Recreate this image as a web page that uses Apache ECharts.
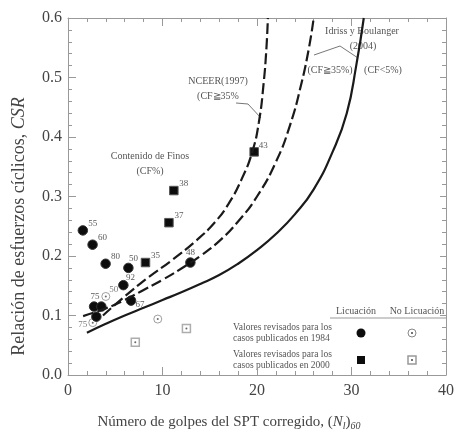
<!DOCTYPE html>
<html><head><meta charset="utf-8">
<script src="https://cdn.jsdelivr.net/npm/echarts@6/dist/echarts.min.js"></script>
<style>html,body{margin:0;padding:0;background:#fff}#c{width:457px;height:436px}</style>
</head><body><div id="c"></div>
<script>
// ---- data ----
const xTicks = [0, 10, 20, 30, 40];
const yTicks = [0.0, 0.1, 0.2, 0.3, 0.4, 0.5, 0.6];

// Licuación, 1984 cases (filled circles)
const liq1984X = [1.57, 2.6, 3.98, 6.39, 5.86, 12.95, 2.76, 3.53, 3.0, 6.67];
const liq1984Y = [0.243, 0.219, 0.187, 0.180, 0.151, 0.189, 0.115, 0.115, 0.098, 0.125];
const liq1984L = ['55', '60', '80', '50', '92', '48', '75', '', '', '67'];

// Licuación, 2000 cases (filled squares)
const liq2000X = [8.2, 11.2, 10.68, 19.7];
const liq2000Y = [0.189, 0.310, 0.256, 0.375];
const liq2000L = ['35', '38', '37', '43'];

// No licuación, 1984 (open circles)
const noLiq1984X = [4.0, 2.62, 9.5];
const noLiq1984Y = [0.132, 0.088, 0.094];
const noLiq1984L = ['50', '75', ''];

// No licuación, 2000 (open squares)
const noLiq2000X = [7.12, 12.53];
const noLiq2000Y = [0.055, 0.078];

// Curves
const nceerX = [3.7, 6.0, 8.5, 11.0, 13.5, 15.5, 17.0, 18.4, 19.5, 20.2, 20.7, 21.0, 21.15];
const nceerY = [0.100, 0.132, 0.164, 0.193, 0.225, 0.256, 0.288, 0.330, 0.375, 0.425, 0.490, 0.550, 0.600];

const ib35X = [1.6, 4.0, 6.0, 8.0, 10.0, 12.0, 14.0, 16.0, 18.0, 20.0, 22.0, 23.5, 24.7, 25.5, 26.0];
const ib35Y = [0.099, 0.112, 0.126, 0.143, 0.160, 0.179, 0.200, 0.225, 0.258, 0.300, 0.358, 0.420, 0.490, 0.550, 0.600];

const ib5X = [2.0, 4.0, 6.0, 8.0, 10.0, 12.0, 14.0, 16.0, 18.0, 20.0, 22.0, 24.0, 26.0, 28.0, 29.5, 30.5, 31.3];
const ib5Y = [0.071, 0.086, 0.100, 0.113, 0.126, 0.139, 0.153, 0.168, 0.187, 0.210, 0.237, 0.270, 0.312, 0.375, 0.440, 0.520, 0.600];

// ---- layout (label offsets, px) ----
const offsets = {
  '1984-6': [1, -10], '1984-5': [0, -10], '1984-4': [7, -8], '1984-9': [9, 4], '1984-3': [5, -9],
  'no1984-0': [8, -7], 'no1984-1': [-10, 2], '2000-3': [9, -6]
};
const FONT = 'Liberation Serif, Times New Roman, serif';
const TXT = '#444';

function pts(xs, ys) { return xs.map((x, i) => [x, ys[i]]); }
function labelled(xs, ys, ls, key) {
  return xs.map((x, i) => ({
    value: [x, ys[i]],
    label: {
      show: !!ls[i], formatter: ls[i] || '', position: 'inside',
      offset: offsets[key + '-' + i] || [10, -7],
      color: '#5a5a5a', fontFamily: FONT, fontSize: 9
    }
  }));
}

const chart = echarts.init(document.getElementById('c'), null, {renderer: 'canvas'});

const axisCommon = {
  min: 0, axisLine: {show: true, onZero: false, lineStyle: {color: '#999', width: 1}},
  axisTick: {show: true, inside: true, length: 8, lineStyle: {color: '#999'}},
  minorTick: {show: true, splitNumber: 5, length: 4, lineStyle: {color: '#999'}},
  splitLine: {show: false}
};

const curveStyle = {type: 'line', smooth: 0.5, showSymbol: false, silent: true};

chart.setOption({
  animation: false,
  backgroundColor: '#fff',
  grid: {left: 68, right: 7, top: 18, bottom: 53},
  xAxis: [
    Object.assign({}, axisCommon, {
      type: 'value', position: 'bottom', max: 40, interval: 10,
      axisLabel: {color: TXT, fontFamily: FONT, fontSize: 16, margin: 8,
        formatter: v => xTicks.includes(v) ? String(v) : ''},
      name: 'Número de golpes del SPT corregido, ({i|N}{s|l}{n|)}{s|60}',
      nameLocation: 'middle', nameGap: 38,
      nameTextStyle: {color: TXT, fontFamily: FONT, fontSize: 15, padding: [0, 56, 0, 0],
        rich: {
          i: {fontFamily: FONT, fontSize: 15, fontStyle: 'italic', color: TXT},
          n: {fontFamily: FONT, fontSize: 15, color: TXT},
          s: {fontFamily: FONT, fontSize: 10, fontStyle: 'italic', color: TXT, padding: [8, 0, 0, 0]}
        }}
    }),
    Object.assign({}, axisCommon, {
      type: 'value', position: 'top', max: 40, interval: 10, axisLabel: {show: false}
    })
  ],
  yAxis: [
    Object.assign({}, axisCommon, {
      type: 'value', position: 'left', max: 0.6, interval: 0.1,
      axisLabel: {color: TXT, fontFamily: FONT, fontSize: 16, margin: 6,
        formatter: v => yTicks.some(t => Math.abs(t - v) < 1e-9) ? v.toFixed(1) : ''},
      name: 'Relación de esfuerzos cíclicos, {i|CSR}',
      nameLocation: 'middle', nameGap: 40, nameRotate: 90,
      nameTextStyle: {color: TXT, fontFamily: FONT, fontSize: 18, padding: [0, 60, 0, 0],
        rich: {i: {fontFamily: FONT, fontSize: 18, fontStyle: 'italic', color: TXT}}}
    }),
    Object.assign({}, axisCommon, {
      type: 'value', position: 'right', max: 0.6, interval: 0.1,
      axisTick: {show: true, inside: true, length: 6, lineStyle: {color: '#999'}},
      axisLabel: {show: false}
    })
  ],
  series: [
    Object.assign({}, curveStyle, {data: pts(ib5X, ib5Y), lineStyle: {color: '#1a1a1a', width: 2.2}}),
    Object.assign({}, curveStyle, {data: pts(ib35X, ib35Y), lineStyle: {color: '#1a1a1a', width: 2.2, type: [11, 4]}}),
    Object.assign({}, curveStyle, {data: pts(nceerX, nceerY), lineStyle: {color: '#1a1a1a', width: 2.2, type: [11, 4]}}),
    {type: 'scatter', data: labelled(noLiq1984X, noLiq1984Y, noLiq1984L, 'no1984'), symbol: 'circle', symbolSize: 8,
      itemStyle: {color: '#fff', borderColor: '#888', borderWidth: 1}},
    {type: 'scatter', data: pts(noLiq2000X, noLiq2000Y), symbol: 'rect', symbolSize: 8,
      itemStyle: {color: '#fff', borderColor: '#999', borderWidth: 1.5}},
    {type: 'scatter', data: pts(noLiq1984X.concat(noLiq2000X), noLiq1984Y.concat(noLiq2000Y)), symbol: 'circle', symbolSize: 2,
      itemStyle: {color: '#444'}},
    {type: 'scatter', data: labelled(liq1984X, liq1984Y, liq1984L, '1984'), symbol: 'circle', symbolSize: 9.5,
      itemStyle: {color: '#0d0d0d', borderColor: '#333', borderWidth: 1, opacity: 1}},
    {type: 'scatter', data: labelled(liq2000X, liq2000Y, liq2000L, '2000'), symbol: 'rect', symbolSize: 8.5,
      itemStyle: {color: '#0d0d0d', borderColor: '#555', borderWidth: 1, opacity: 1}}
  ],
  graphic: [
    // annotations
    {type: 'text', x: 150, y: 151, style: {text: 'Contenido de Finos', font: '10px ' + FONT, fill: '#555', align: 'center'}},
    {type: 'text', x: 150, y: 166, style: {text: '(CF%)', font: '10px ' + FONT, fill: '#555', align: 'center'}},
    {type: 'text', x: 218, y: 76, style: {text: 'NCEER(1997)', font: '10px ' + FONT, fill: '#555', align: 'center'}},
    {type: 'text', x: 218, y: 91, style: {text: '(CF\u226735%', font: '10px ' + FONT, fill: '#555', align: 'center'}},
    {type: 'polyline', shape: {points: [[236, 103], [248, 104], [261, 118]]}, style: {stroke: '#777', lineWidth: 1, fill: null}},
    {type: 'text', x: 362, y: 26, style: {text: 'Idriss y Boulanger', font: '10px ' + FONT, fill: '#555', align: 'center'}},
    {type: 'text', x: 363, y: 41, style: {text: '(2004)', font: '10px ' + FONT, fill: '#555', align: 'center'}},
    {type: 'polyline', shape: {points: [[314, 55], [340, 46], [358, 58]]}, style: {stroke: '#777', lineWidth: 1, fill: null}},
    {type: 'text', x: 330, y: 65, style: {text: '(CF\u226735%)', font: '10px ' + FONT, fill: '#555', align: 'center'}},
    {type: 'text', x: 383, y: 65, style: {text: '(CF<5%)', font: '10px ' + FONT, fill: '#555', align: 'center'}},
    // legend
    {type: 'text', x: 356, y: 306, style: {text: 'Licuación', font: '10px ' + FONT, fill: '#555', align: 'center'}},
    {type: 'text', x: 417, y: 306, style: {text: 'No Licuación', font: '10px ' + FONT, fill: '#555', align: 'center'}},
    {type: 'line', shape: {x1: 330, y1: 318, x2: 447, y2: 318}, style: {stroke: '#999', lineWidth: 1}},
    {type: 'text', x: 233, y: 322, style: {text: 'Valores revisados para los', font: '9.5px ' + FONT, fill: '#555'}},
    {type: 'text', x: 233, y: 333, style: {text: 'casos publicados en 1984', font: '9.5px ' + FONT, fill: '#555'}},
    {type: 'text', x: 233, y: 349, style: {text: 'Valores revisados para los', font: '9.5px ' + FONT, fill: '#555'}},
    {type: 'text', x: 233, y: 360, style: {text: 'casos publicados en 2000', font: '9.5px ' + FONT, fill: '#555'}},
    {type: 'circle', shape: {cx: 361, cy: 333, r: 4.5}, style: {fill: '#0d0d0d'}},
    {type: 'circle', shape: {cx: 412, cy: 333, r: 4}, style: {fill: '#fff', stroke: '#888', lineWidth: 1}},
    {type: 'circle', shape: {cx: 412, cy: 333, r: 1}, style: {fill: '#444'}},
    {type: 'rect', shape: {x: 357, y: 356, width: 8, height: 8}, style: {fill: '#0d0d0d'}},
    {type: 'rect', shape: {x: 408, y: 356, width: 8, height: 8}, style: {fill: '#fff', stroke: '#999', lineWidth: 1.5}},
    {type: 'circle', shape: {cx: 412, cy: 360, r: 1}, style: {fill: '#444'}}
  ]
});
</script></body></html>
